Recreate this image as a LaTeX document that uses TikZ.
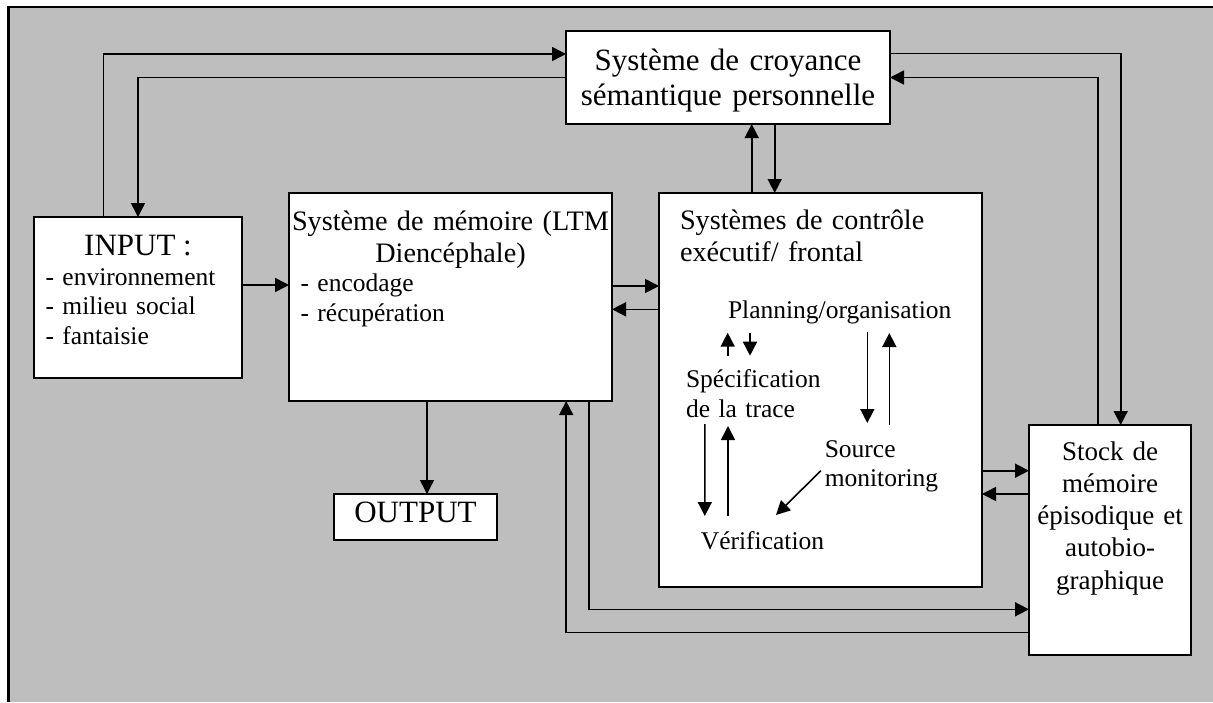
\documentclass[tikz,border=0pt]{standalone}
\usepackage{fontspec}
\setmainfont{Liberation Serif}
\usetikzlibrary{arrows.meta}
\definecolor{bggray}{RGB}{190,190,190}
\begin{document}
\begin{tikzpicture}[x=1pt,y=-1pt,
  box/.style={draw=black, line width=2pt, fill=white, inner sep=0pt, outer sep=0pt},
  arr/.style={line width=1.6pt, -{Triangle[length=14pt 0,width=14pt 0]}},
  txt/.style={inner sep=0pt, outer sep=0pt},
  big/.style={font=\fontsize{31}{35}\selectfont},
  ttl/.style={font=\fontsize{28.2}{32.2}\selectfont},
  stk/.style={font=\fontsize{27}{32.3}\selectfont},
  sml/.style={font=\fontsize{25.5}{29.6}\selectfont}]
\useasboundingbox (0,0) rectangle (1213,702);
% background frame
\fill[bggray] (8.5,7) rectangle (1213,702);
\draw[line width=2.2pt] (8.5,702) -- (8.5,7) -- (1213,7);

% boxes
\node[box, minimum width=324pt, minimum height=93pt] (croy) at (728,77.5) {};
\node[box, minimum width=208pt, minimum height=161pt] (input) at (138,297.5) {};
\node[box, minimum width=323pt, minimum height=208pt] (mem) at (450.5,297) {};
\node[box, minimum width=323pt, minimum height=394pt] (ctrl) at (820.5,390) {};
\node[box, minimum width=162pt, minimum height=230pt] (stock) at (1110,540) {};
\node[box, minimum width=163pt, minimum height=46pt] (output) at (415.5,517) {};

% texts
\node[txt, big, anchor=base, text width=340pt, align=center] (croyT) at (728,70) {Système de croyance\\sémantique personnelle};
\node[txt, big, anchor=base] (inT) at (138,255) {INPUT :};
\node[txt, sml, anchor=base west, text width=195pt, align=left] (inL) at (45.5,285) {- environnement\\- milieu social\\- fantaisie};
\node[txt, ttl, anchor=base, text width=340pt, align=center] (memT) at (450.5,230) {Système de mémoire (LTM\\Diencéphale)};
\node[txt, sml, anchor=base west, text width=250pt, align=left] (memL) at (300.5,291.7) {- encodage\\- récupération};
\node[txt, ttl, anchor=base west, text width=300pt, align=left] (ctrlT) at (680,229.3) {Systèmes de contrôle\\exécutif/ frontal};
\node[txt, sml, anchor=base west] (plan) at (728,318.3) {Planning/organisation};
\node[txt, sml, anchor=base west, text width=150pt, align=left] (spec) at (686,387.7) {Spécification\\de la trace};
\node[txt, sml, anchor=base west, text width=140pt, align=left] (src) at (824.8,457.3) {Source\\monitoring};
\node[txt, sml, anchor=base west] (verif) at (700.9,549.3) {Vérification};
\node[txt, stk, anchor=base, text width=170pt, align=center] (stockT) at (1110,460) {Stock de\\mémoire\\épisodique et\\autobio-\\graphique};
\node[txt, big, anchor=base] (outT) at (415.5,522.7) {OUTPUT};

% outer connectors
\draw[arr] ([xshift=-34.4pt]input.north) |- ([yshift=23.5pt]croy.west);
\draw[arr] (croy.west) -| (input.north);
\draw[arr] ([yshift=24.2pt]croy.east) -| ([xshift=10.7pt]stock.north);
\draw[arr] ([xshift=-12.3pt]stock.north) |- (croy.east);
\coordinate (k1) at ([xshift=-68.8pt]ctrl.north);
\coordinate (k2) at ([xshift=-45.8pt]ctrl.north);
\draw[arr] (k1) -- (k1 |- croy.south);
\draw[arr] (k2 |- croy.south) -- (k2);
\coordinate (i1) at ([yshift=12.5pt]input.east);
\draw[arr] (i1) -- (i1 -| mem.west);
\coordinate (m1) at ([yshift=11pt]mem.east);
\coordinate (m2) at ([yshift=-12.3pt]mem.east);
\draw[arr] (m1) -- (m1 -| ctrl.west);
\draw[arr] (m2 -| ctrl.west) -- (m2);
\coordinate (s1) at ([yshift=69.3pt]stock.west);
\coordinate (s2) at ([yshift=46pt]stock.west);
\draw[arr] (s1 -| ctrl.east) -- (s1);
\draw[arr] (s2) -- (s2 -| ctrl.east);
\draw[arr] ([xshift=138.5pt]mem.south) |- ([yshift=-69.3pt]stock.west);
\draw[arr] ([yshift=-92.3pt]stock.west) -| ([xshift=115.7pt]mem.south);
\coordinate (o1) at ([xshift=11.5pt]output.north);
\draw[arr] (o1 |- mem.south) -- (o1);

% inner connectors
\draw[arr] ([shift={(41.7,-32)}]spec.base west) -- ([shift={(-0.3,14.4)}]plan.base west);
\draw[arr] ([shift={(22,14.4)}]plan.base west) -- ([shift={(64,-32)}]spec.base west);
\draw[arr] ([shift={(139.3,13.4)}]plan.base west) -- ([shift={(42.5,-34.3)}]src.base west);
\draw[arr] ([shift={(64.5,-32.3)}]src.base west) -- ([shift={(161.3,14.7)}]plan.base west);
\draw[arr] ([shift={(18.8,36.3)}]spec.base west) -- ([shift={(3.9,-33.3)}]verif.base west);
\draw[arr] ([shift={(27.1,-33.3)}]verif.base west) -- ([shift={(42,38.3)}]spec.base west);
\draw[arr] ([shift={(-3.9,13.4)}]src.base west) -- ([shift={(75.1,-34.3)}]verif.base west);
\end{tikzpicture}
\end{document}
